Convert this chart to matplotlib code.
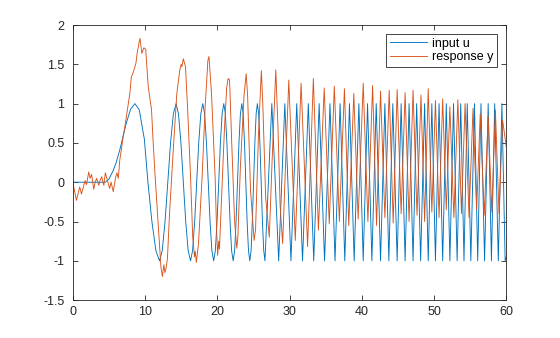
import matplotlib
matplotlib.use("Agg")
import matplotlib.pyplot as plt

# input u, points (smooth part first, then extrema only)
u_t = [0, 4.5, 5.0, 5.6, 6.0, 6.5, 7.0, 7.4, 8.0, 8.6,
       9.2, 9.9, 10.4, 10.95, 11.5, 12.0,
       12.38, 12.77, 13.15, 13.53, 13.92, 14.3,
       14.63, 14.97, 15.3, 15.63, 15.97, 16.3,
       16.58, 16.87, 17.15, 17.43, 17.72, 18.0,
       18.25, 18.5, 18.75, 19.0, 19.25, 19.5,
       19.73, 19.97, 20.2, 20.43, 20.67, 20.9,
       21.12, 21.33, 21.55, 21.77, 21.98, 22.2,
       22.4, 22.6, 22.8, 23.0, 23.2, 23.4,
       23.58, 23.77, 23.95, 24.13, 24.32, 24.5,
       24.68, 24.85, 25.03, 25.2, 25.38, 25.55,
       25.73, 25.9, 26.08, 26.25, 26.43, 26.6,
       27.55, 28.5, 29.35, 30.2, 31.0, 31.8, 32.6, 33.35, 34.1, 34.85,
       35.6, 36.3, 37.0, 37.65, 38.3, 38.95, 39.6, 40.2, 40.8, 41.4,
       42.0, 42.6, 43.2, 43.75, 44.3, 44.9, 45.45, 46.0, 46.55, 47.1,
       47.6, 48.15, 48.7, 49.2, 49.7, 50.2, 50.7, 51.2, 51.7, 52.2,
       52.7, 53.2, 53.7, 54.15, 54.6, 55.1, 55.6, 56.05, 56.5, 57.0,
       57.5, 57.95, 58.4, 58.9, 59.4, 59.85, 60.0]
u_v = [0, 0, 0.04, 0.15, 0.25, 0.41, 0.6, 0.75, 0.93, 1.0,
       0.92, 0.55, 0, -0.5, -0.87, -1,
       -0.87, -0.5, 0, 0.5, 0.87, 1,
       0.87, 0.5, 0, -0.5, -0.87, -1,
       -0.87, -0.5, 0, 0.5, 0.87, 1,
       0.87, 0.5, 0, -0.5, -0.87, -1,
       -0.87, -0.5, 0, 0.5, 0.87, 1,
       0.87, 0.5, 0, -0.5, -0.87, -1,
       -0.87, -0.5, 0, 0.5, 0.87, 1,
       0.87, 0.5, 0, -0.5, -0.87, -1,
       -0.87, -0.5, 0, 0.5, 0.87, 1,
       0.87, 0.5, 0, -0.5, -0.87, -1,
       1, -1, 1, -1, 1, -1, 1, -1, 1, -1,
       1, -1, 1, -1, 1, -1, 1, -1, 1, -1,
       1, -1, 1, -1, 1, -1, 1, -1, 1, -1,
       1, -1, 1, -1, 1, -1, 1, -1, 1, -1,
       1, -1, 1, -1, 1, -1, 1, -1, 1, -1,
       1, -1, 1, -1, 1, -1, -0.95]

# response y
y_t = [0.0, 0.5, 0.96, 1.2, 1.4, 1.7, 1.9, 2.2, 2.4, 2.6, 2.9, 3.1, 3.3, 3.6, 3.8,
       4.0, 4.3, 4.5, 4.8, 5.1, 5.3, 5.6, 5.9, 6.1, 6.3, 6.5, 6.7, 6.97, 7.2, 7.4,
       7.6, 7.9, 8.1, 8.3, 8.6, 8.75, 8.9, 9.2, 9.3, 9.45, 9.56, 9.84, 10.1, 10.3,
       10.45, 10.9, 11.1, 11.4, 11.7, 12.0, 12.2, 12.4, 12.6, 12.75, 12.9, 13.1,
       13.4, 13.9, 14.4, 14.8, 15.0, 15.1, 15.3, 15.6, 15.9, 16.3, 16.6, 16.85,
       16.95, 17.1, 17.4, 17.9, 18.3, 18.7, 18.85, 19.2, 19.7, 19.9, 20.05, 20.2,
       20.3, 20.6, 21.0, 21.3, 21.5, 21.7, 22.0, 22.4, 22.7, 22.85, 23.2, 23.7,
       24.0, 24.2, 24.6, 25.1, 25.3, 25.7, 26.1, 26.3, 26.7, 27.2, 27.6, 28.1,
       28.4, 28.7, 29.05, 29.4, 29.9, 30.2, 30.8, 31.6, 32.5, 33.3, 34.0, 34.8,
       35.5, 36.2, 36.9, 37.6, 38.2, 38.9, 39.5, 40.2, 40.85, 41.5, 42.05, 42.6,
       43.2, 43.8, 44.35, 44.9, 45.45, 46.0, 46.55, 47.1, 47.65, 48.2, 48.7, 49.2,
       49.7, 50.2, 50.7, 51.2, 51.7, 52.2, 52.75, 53.3, 53.8, 54.3, 54.85, 55.4,
       55.9, 56.4, 56.95, 57.5, 58.0, 58.5, 59.0, 59.5, 60.0]
y_v = [0.0, -0.23, -0.06, -0.15, -0.08, 0.02, -0.03, 0.13, 0.05, 0.1, -0.09, 0.0, 0.05, -0.04, 0.03,
       0.07, -0.04, 0.12, 0.02, -0.08, 0.0, -0.12, 0.05, 0.12, 0.05, 0.28, 0.4, 0.58, 0.7, 0.83,
       0.95, 1.13, 1.34, 1.38, 1.47, 1.52, 1.64, 1.79, 1.83, 1.72, 1.64, 1.71, 1.69, 1.4,
       1.21, 0.92, 0.55, 0.07, -0.36, -0.78, -1.08, -1.2, -1.05, -1.15, -1.1, -0.97,
       -0.38, 0.4, 1.13, 1.42, 1.5, 1.47, 1.57, 1.47, 0.92, 0.07, -0.69, -0.95,
       -0.88, -1.02, -0.78, 0.07, 0.92, 1.55, 1.6, 1.13, 0.07, -0.6, -0.93, -0.75,
       -0.85, -0.2, 0.7, 1.2, 1.32, 1.3, 0.5, -0.5, -0.84, -0.7, 0.2, 1.1,
       1.38, 1.1, -0.1, -0.74, -0.6, 0.6, 1.42, 1.0, -0.2, -0.7, 0.3, 1.43,
       0.7, -0.3, -0.78, 0.1, 1.30, 0.6, -0.74, 1.26, -0.82, 1.32, -0.61, 1.2,
       -0.53, 1.22, -0.5, 1.19, -0.55, 1.13, -0.47, 1.26, -0.5, 1.23, -0.55, 1.16,
       -0.45, 1.17, -0.52, 1.18, -0.4, 1.14, -0.5, 1.17, -0.42, 1.11, -0.5, 1.19,
       -0.38, 1.04, -0.45, 1.06, -0.35, 0.96, -0.45, 1.05, -0.4, 1.0, -0.45, 0.94,
       -0.35, 0.87, -0.42, 0.84, -0.38, 0.92, -0.4, 0.79, 0.45]

x_ticks = [0, 10, 20, 30, 40, 50, 60]
y_ticks = [-1.5, -1, -0.5, 0, 0.5, 1, 1.5, 2]
y_labels = ["-1.5", "-1", "-0.5", "0", "0.5", "1", "1.5", "2"]

plt.rcParams['font.family'] = ['Liberation Sans', 'DejaVu Sans']
dark = '#262626'

fig = plt.figure(figsize=(5.6, 3.38), dpi=100)
ax = fig.add_axes([0.13, 0.112, 0.774, 0.814])
ax.plot(u_t, u_v, color='#0072BD', lw=0.65, label='input u')
ax.plot(y_t, y_v, color='#D95319', lw=0.65, label='response y')

ax.set_xlim(0, 60)
ax.set_ylim(-1.5, 2)
ax.set_xticks(x_ticks)
ax.set_xticklabels([str(v) for v in x_ticks])
ax.set_yticks(y_ticks)
ax.set_yticklabels(y_labels)
ax.tick_params(direction='in', top=True, right=True, length=3.5, width=0.6,
               colors=dark, labelsize=9)
ax.tick_params(axis='x', pad=4)
ax.tick_params(axis='y', pad=6)
for s in ax.spines.values():
    s.set_color(dark)
    s.set_linewidth(0.6)

leg = ax.legend(loc='upper right', fontsize=9, fancybox=False, framealpha=1,
                edgecolor=dark, handlelength=3.0, borderaxespad=0.7,
                borderpad=0.3, labelspacing=0.15, handletextpad=0.4)
leg.get_frame().set_linewidth(0.6)

fig.savefig('out.png', dpi=100)
